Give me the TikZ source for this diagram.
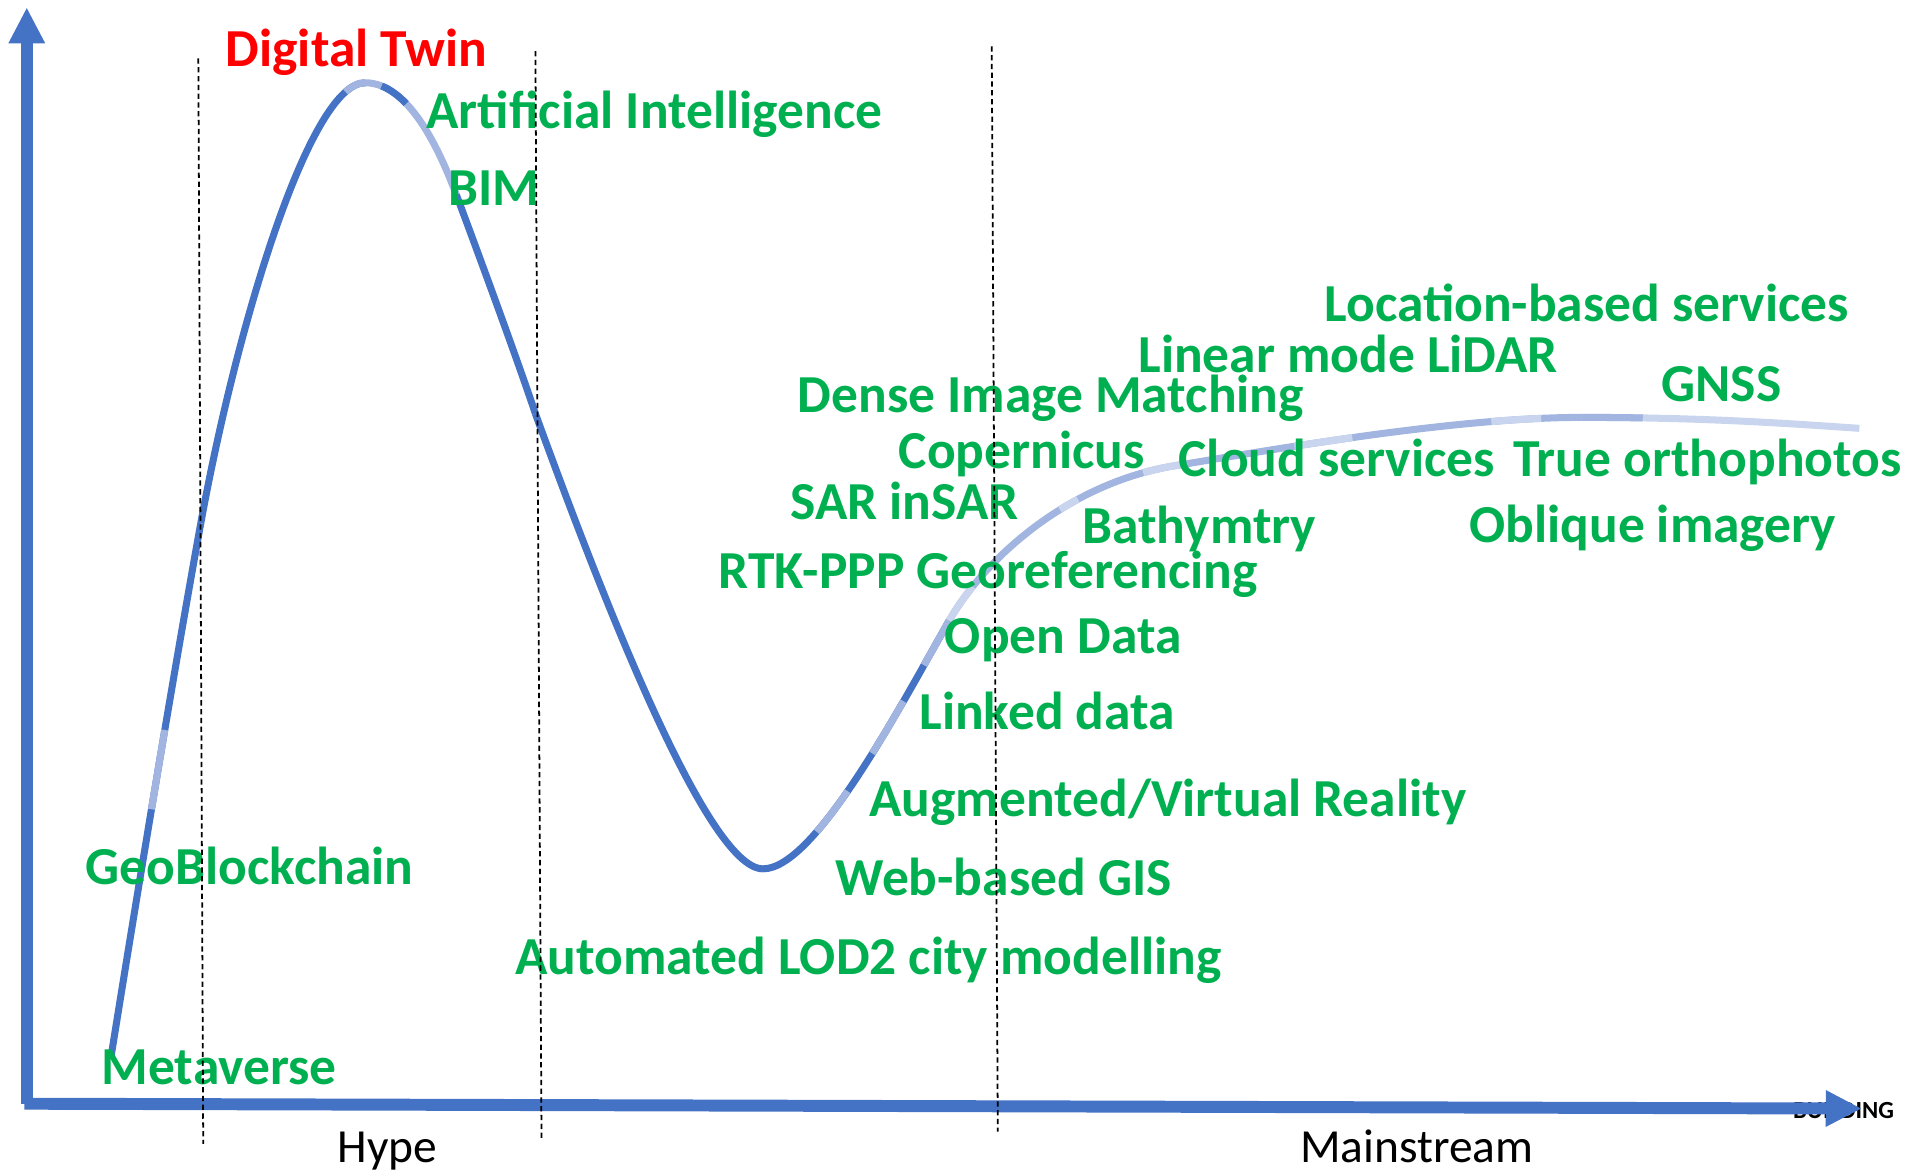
\documentclass[tikz,border=0pt]{standalone}
\usepackage{fontspec}
\setmainfont{Carlito}
\usepackage{tikz}
\usetikzlibrary{arrows.meta}

\definecolor{hcblue}{HTML}{4472C4}
\definecolor{hclight}{HTML}{A2B5E0}
\definecolor{hcpale}{HTML}{C9D5EE}
\definecolor{hcgreen}{HTML}{00B050}
\definecolor{hcred}{HTML}{FF0000}

\tikzset{
  axis/.style={hcblue, line width=3.4pt, -{Triangle[length=0.36cm,width=0.34cm]}},
  hype/.style={line width=2pt},
  phase/.style={black, line width=0.5pt, dash pattern=on 1.5pt off 1pt},
  tech/.style={font=\fontsize{15.2}{18}\selectfont\bfseries, text=hcgreen, anchor=west, inner sep=0pt, text height=9.6pt, text depth=0pt},
  stage/.style={font=\fontsize{13.5}{16}\selectfont, anchor=west, inner sep=0pt, text height=8.5pt, text depth=0pt}
}

\begin{document}
\begin{tikzpicture}[x=0.012168cm, y={(0cm,-0.012168cm)}]
    \useasboundingbox (0,0) rectangle (1568,962);

    % axis label hidden behind the arrow
    \node (bldg) at (1473,913) [font=\fontsize{7}{8}\selectfont\bfseries, anchor=west, inner sep=0pt] {BUILDING};

    % Axes
    \draw[axis] (22,907) -- (22,6);
    \draw[axis] (20,907) -- (1530,911);

    % Hype cycle curve
    \coordinate (c0) at (91,870);
    \coordinate (c1) at (165,430);
    \coordinate (c2) at (300,68);
    \coordinate (c3) at (375,160);
    \coordinate (c4) at (440,340);
    \coordinate (c5) at (627,714);
    \coordinate (c6) at (780,510);
    \coordinate (c7) at (970,382);
    \coordinate (c8) at (1300,343);
    \coordinate (c9) at (1528,352);
    \draw[hype, hcblue] (c0) .. controls (115,720) and (145,540) .. (c1);
    \draw[hype, hclight, dash pattern=on 0pt off 2.526cm on 0.803cm off 20cm] (c0) .. controls (115,720) and (145,540) .. (c1);
    \draw[hype, hcblue] (c1) .. controls (195,265) and (255,68) .. (c2);
    \draw[hype, hclight, dash pattern=on 0pt off 4.587cm on 1cm] (c1) .. controls (195,265) and (255,68) .. (c2);
    \draw[hype, hclight] (c2) .. controls (335,68) and (360,120) .. (c3);
    \draw[hype, hcblue, dash pattern=on 0pt off 0.17cm on 0.304cm off 20cm] (c2) .. controls (335,68) and (360,120) .. (c3);
    \draw[hype, hcblue] (c3) .. controls (390,200) and (425,295) .. (c4);
    \draw[hype, hcblue] (c4) .. controls (490,477) and (580,714) .. (c5);
    \draw[hype, hcblue] (c5) .. controls (670,714) and (740,580) .. (c6);
    \draw[hype, hclight, dash pattern=on 0pt off 0.669cm on 0.511cm off 0.45cm on 0.608cm off 0.414cm on 1cm] (c5) .. controls (670,714) and (740,580) .. (c6);
    \draw[hype, hclight] (c6) .. controls (810,458) and (880,395) .. (c7);
    \draw[hype, hcpale, dash pattern=on 0.414cm off 1.168cm on 0.207cm off 0.706cm on 1cm] (c6) .. controls (810,458) and (880,395) .. (c7);
    \draw[hype, hclight] (c7) .. controls (1060,367) and (1200,343) .. (c8);
    \draw[hype, hcpale, dash pattern=on 0pt off 1.156cm on 0.584cm off 1.399cm on 0.499cm off 20cm] (c7) .. controls (1060,367) and (1200,343) .. (c8);
    \draw[hype, hcpale] (c8) .. controls (1400,343) and (1470,348) .. (c9);
    \draw[hype, hclight, dash pattern=on 0.608cm off 20cm] (c8) .. controls (1400,343) and (1470,348) .. (c9);

    % Technologies
    \node (twin) at (185,41) [tech, text=hcred] {Digital Twin};
    \node (ai) at (350,92) [tech] {Artificial Intelligence};
    \node (bim) at (368,155) [tech] {BIM};
    \node (lbs) at (1088,250) [tech] {Location-based services};
    \node (lidar) at (935,292) [tech] {Linear mode LiDAR};
    \node (gnss) at (1365,316) [tech] {GNSS};
    \node (dim) at (655,325) [tech] {Dense Image Matching};
    \node (coper) at (738,371) [tech] {Copernicus};
    \node (cloud) at (968,378) [tech] {Cloud services};
    \node (ortho) at (1243,378) [tech] {True orthophotos};
    \node (sar) at (649,413) [tech] {SAR inSAR};
    \node (bathy) at (889,433) [tech] {Bathymtry};
    \node (obl) at (1207,432) [tech] {Oblique imagery};
    \node (rtk) at (590,470) [tech] {RTK-PPP Georeferencing};
    \node (open) at (776,523) [tech] {Open Data};
    \node (linked) at (755,586) [tech] {Linked data};
    \node (arvr) at (714,657) [tech] {Augmented/Virtual Reality};
    \node (chain) at (70,713) [tech] {GeoBlockchain};
    \node (web) at (686,722) [tech] {Web-based GIS};
    \node (lod) at (423,787) [tech] {Automated LOD2 city modelling};
    \node (meta) at (83,877) [tech] {Metaverse};

    % Phases
    \draw[phase] (163,48) -- (167,940);
    \draw[phase] (440,42) -- (445,935);
    \draw[phase] (815,38) -- (820,930);
    \node (hype) at (277,943) [stage] {Hype};
    \node (main) at (1068,943) [stage] {Mainstream};
\end{tikzpicture}
\end{document}
